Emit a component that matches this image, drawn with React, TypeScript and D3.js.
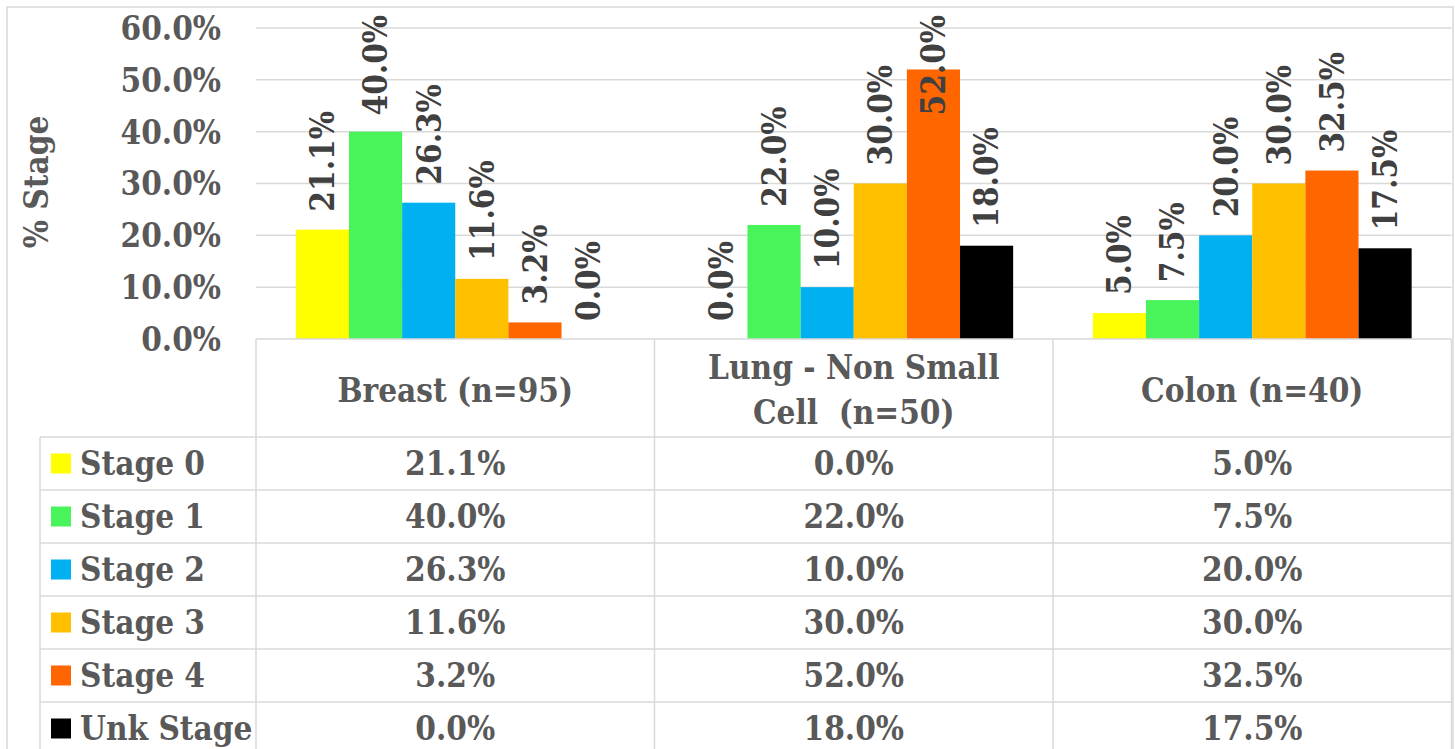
import React, { useEffect, useRef } from "react";
import * as d3 from "d3";

const categories = ["Breast (n=95)", "Lung - Non Small Cell  (n=50)", "Colon (n=40)"];
const categoryLines = [["Breast (n=95)"], ["Lung - Non Small", "Cell\u00A0\u00A0(n=50)"], ["Colon (n=40)"]];
const stages = ["Stage 0", "Stage 1", "Stage 2", "Stage 3", "Stage 4", "Unk Stage"];
const stageColors = ["#FFFF00", "#48F45A", "#00B0F0", "#FFC000", "#FF6600", "#000000"];
const stage0 = [21.1, 0.0, 5.0];
const stage1 = [40.0, 22.0, 7.5];
const stage2 = [26.3, 10.0, 20.0];
const stage3 = [11.6, 30.0, 30.0];
const stage4 = [3.2, 52.0, 32.5];
const stageUnk = [0.0, 18.0, 17.5];
const seriesValues = [stage0, stage1, stage2, stage3, stage4, stageUnk];
const yTicks = [0, 10, 20, 30, 40, 50, 60];

const W = 1455;
const H = 749;
const FONT = "'DejaVu Serif Condensed', 'DejaVu Serif', serif";
const FS = 33;
const GRID = "#d9d9d9";
const TXT = "#595959";
const LBL = "#404040";

export default function App() {
  const ref = useRef<SVGSVGElement | null>(null);

  useEffect(() => {
    const svg = d3.select(ref.current);
    svg.selectAll("*").remove();

    const plotL = 256, plotR = 1451.5, plotT = 28, plotB = 339;
    const x0 = d3.scaleBand<string>().domain(categories).range([plotL, plotR]).padding(0);
    const x1 = d3.scaleBand<string>().domain(stages).range([0, x0.bandwidth()]).paddingInner(0).paddingOuter(0.75);
    const y = d3.scaleLinear().domain([0, 60]).range([plotB, plotT]);

    const rowTop = 437;
    const rowH = 53;
    const legendL = 40;

    const g = svg.append("g")
      .style("font-family", FONT)
      .style("font-stretch", "condensed")
      .style("font-weight", "bold");

    // chart border
    g.append("rect").attr("x", 7).attr("y", 7).attr("width", W - 9).attr("height", H + 20)
      .attr("fill", "white").attr("stroke", GRID).attr("stroke-width", 1.5);

    // gridlines
    g.append("g").selectAll("line").data(yTicks.filter(t => t > 0)).join("line")
      .attr("x1", plotL).attr("x2", plotR)
      .attr("y1", d => y(d)).attr("y2", d => y(d))
      .attr("stroke", GRID).attr("stroke-width", 1.5);

    // y tick labels
    g.append("g").selectAll("text").data(yTicks).join("text")
      .attr("x", 221).attr("y", d => y(d)).attr("dy", "0.36em")
      .attr("text-anchor", "end").attr("fill", TXT).attr("font-size", FS)
      .text(d => d.toFixed(1) + "%");

    // y axis title
    g.append("text")
      .attr("transform", `translate(${48},${182}) rotate(-90)`)
      .attr("text-anchor", "middle").attr("fill", TXT).attr("font-size", FS)
      .text("% Stage");

    // bars
    const barData: { cat: string; stage: string; si: number; ci: number; v: number }[] = [];
    seriesValues.forEach((vals, si) => vals.forEach((v, ci) => barData.push({ cat: categories[ci], stage: stages[si], si, ci, v })));

    g.append("g").selectAll("rect").data(barData).join("rect")
      .attr("x", d => (x0(d.cat) as number) + (x1(d.stage) as number))
      .attr("width", x1.bandwidth())
      .attr("y", d => y(d.v))
      .attr("height", d => plotB - y(d.v))
      .attr("fill", d => stageColors[d.si]);

    // table lines
    const tg = g.append("g").attr("stroke", GRID).attr("stroke-width", 1.5);
    tg.append("line").attr("x1", plotL).attr("x2", plotR).attr("y1", plotB).attr("y2", plotB);
    const colEdges = [plotL, ...categories.map(c => (x0(c) as number) + x0.bandwidth())];
    colEdges.forEach(xv => {
      tg.append("line").attr("x1", xv).attr("x2", xv).attr("y1", plotB).attr("y2", H + 5);
    });
    tg.append("line").attr("x1", legendL).attr("x2", legendL).attr("y1", rowTop).attr("y2", H + 5);
    d3.range(stages.length + 1).forEach(i => {
      const yy = rowTop + i * rowH;
      tg.append("line").attr("x1", legendL).attr("x2", plotR).attr("y1", yy).attr("y2", yy);
    });

    // header labels
    categories.forEach((c, ci) => {
      const lines = categoryLines[ci];
      const cx = (x0(c) as number) + x0.bandwidth() / 2;
      const cy = (plotB + rowTop) / 2 + 2;
      const lh = 45;
      lines.forEach((ln, li) => {
        g.append("text")
          .attr("x", cx).attr("y", cy + (li - (lines.length - 1) / 2) * lh)
          .attr("dy", "0.36em").attr("text-anchor", "middle")
          .attr("fill", TXT).attr("font-size", FS).text(ln);
      });
    });

    // legend + table values
    stages.forEach((s, si) => {
      const cy = rowTop + si * rowH + rowH / 2;
      g.append("rect").attr("x", 51).attr("y", cy - 10).attr("width", 20).attr("height", 20).attr("fill", stageColors[si]);
      g.append("text").attr("x", 80).attr("y", cy).attr("dy", "0.36em")
        .attr("fill", TXT).attr("font-size", FS).text(s);
      seriesValues[si].forEach((v, ci) => {
        g.append("text")
          .attr("x", (x0(categories[ci]) as number) + x0.bandwidth() / 2)
          .attr("y", cy).attr("dy", "0.36em").attr("text-anchor", "middle")
          .attr("fill", TXT).attr("font-size", FS).text(v.toFixed(1) + "%");
      });
    });

    // data labels (rotated)
    const lg = g.append("g");
    barData.forEach(d => {
      const cx = (x0(d.cat) as number) + (x1(d.stage) as number) + x1.bandwidth() / 2;
      const t = lg.append("text")
        .attr("fill", LBL).attr("font-size", FS).attr("text-anchor", "start")
        .text(d.v.toFixed(1) + "%");
      const len = (t.node() as SVGTextElement).getComputedTextLength();
      let by = y(d.v) - 18;
      if (by - len < 15) by = 15 + len;
      t.attr("transform", `translate(${cx + FS * 0.36},${by}) rotate(-90)`);
    });
  }, []);

  return (
    <svg ref={ref} width={W} height={H}
      style={{ position: "absolute", left: 0, top: 0, background: "white" }} />
  );
}
